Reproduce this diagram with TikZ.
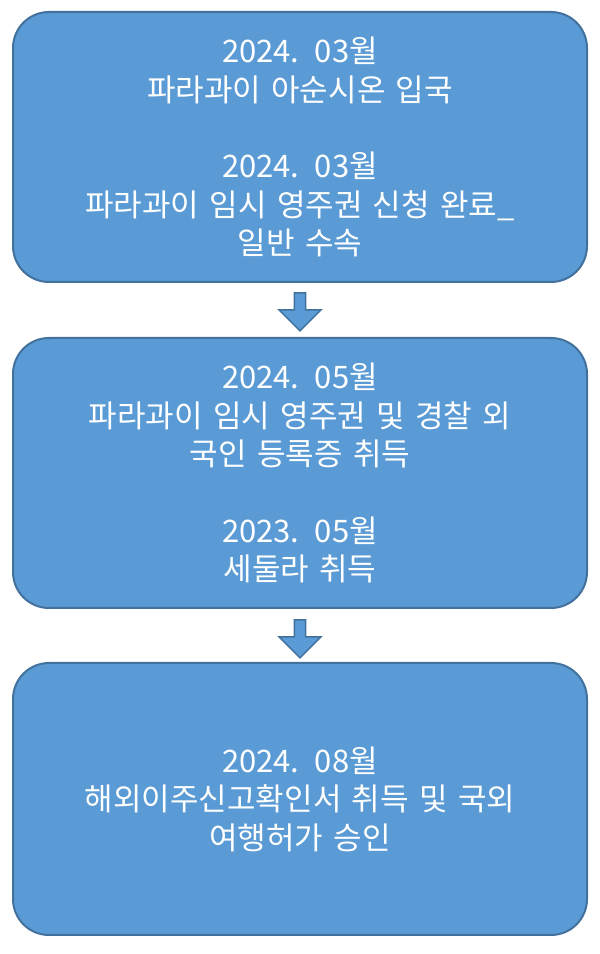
\documentclass[tikz,border=0pt]{standalone}
\usepackage{fontspec}
\newfontfamily\kr{Noto Sans CJK KR}
\usetikzlibrary{shapes.arrows}
\definecolor{boxfill}{HTML}{5B9BD5}
\definecolor{boxline}{HTML}{41719C}
\tikzset{
 stepbox/.style={draw=boxline, line width=2pt, fill=boxfill, rounded corners=36pt, minimum width=574pt, text width=550pt, align=center, text=white, font=\kr\fontsize{31pt}{38.5pt}\selectfont, inner sep=0pt},
 downarrow/.style={single arrow, draw=boxline, line width=1.5pt, fill=boxfill, shape border rotate=270, minimum width=42pt, single arrow head extend=10pt, minimum height=38pt, inner sep=3pt}
}
\begin{document}
\begin{tikzpicture}[x=1pt,y=1pt]
\useasboundingbox (0,0) rectangle (600,954);
\node[stepbox, minimum height=270pt] (b1) at (300,807) {2024. 03월\\파라과이 아순시온 입국\\[38pt]2024. 03월\\파라과이 임시 영주권 신청 완료\_\\일반 수속};
\node[stepbox, minimum height=270pt] (b2) at (300,481) {2024. 05월\\파라과이 임시 영주권 및 경찰 외\\국인 등록증 취득\\[38pt]2023. 05월\\세둘라 취득};
\node[stepbox, minimum height=272pt] (b3) at (300,155) {2024. 08월\\해외이주신고확인서 취득 및 국외\\여행허가 승인};
\node[downarrow] (a1) at (300,645) {};
\node[downarrow] (a2) at (300,318) {};
\end{tikzpicture}
\end{document}
